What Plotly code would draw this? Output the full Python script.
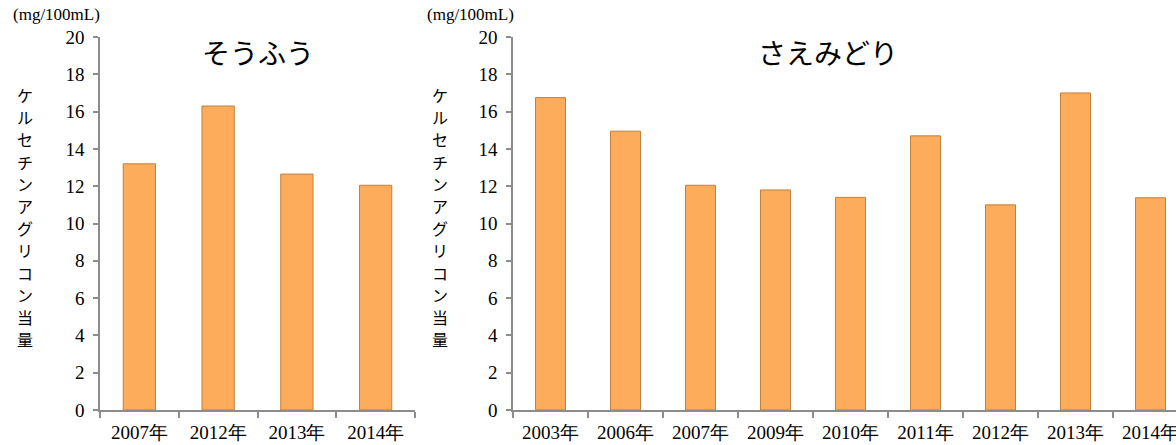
import plotly.graph_objects as go

# Data
soufu_years = ["2007年", "2012年", "2013年", "2014年"]
soufu_values = [13.2, 16.3, 12.65, 12.05]

saemidori_years = ["2003年", "2006年", "2007年", "2009年", "2010年", "2011年", "2012年", "2013年", "2014年"]
saemidori_values = [16.75, 14.95, 12.05, 11.8, 11.4, 14.7, 11.0, 17.0, 11.38]

title_left = "そうふう"
title_right = "さえみどり"
y_title = "ケルセチンアグリコン当量"
unit_label = "(mg/100mL)"
y_ticks = list(range(0, 21, 2))

W, H = 1176, 445
bar_fill = "#FCAC5A"
bar_edge = "#C0803E"
axis_col = "#8C8C8C"
serif = "Liberation Serif, Times New Roman, serif"
sans = "Noto Sans CJK JP, sans-serif"

fig = go.Figure()
fig.add_trace(go.Bar(x=soufu_years, y=soufu_values, width=0.41,
                     marker=dict(color=bar_fill, line=dict(color=bar_edge, width=1)),
                     xaxis="x", yaxis="y", showlegend=False))
fig.add_trace(go.Bar(x=saemidori_years, y=saemidori_values, width=0.4,
                     marker=dict(color=bar_fill, line=dict(color=bar_edge, width=1)),
                     xaxis="x2", yaxis="y2", showlegend=False))

ydom = [(H - 410) / H, (H - 37) / H]
xd1 = [100 / W, 415 / W]
xd2 = [513 / W, 1.0]

xcommon = dict(type="category", showline=True, linecolor=axis_col, linewidth=1.5,
               ticks="outside", ticklen=6, tickcolor=axis_col, tickwidth=1.5,
               tickson="boundaries", showgrid=False, zeroline=False, automargin=False,
               tickfont=dict(family=serif, size=19, color="#000"), ticklabelstandoff=4)
ycommon = dict(range=[0, 20], tickvals=y_ticks, showline=True, linecolor=axis_col, linewidth=1.5,
               ticks="outside", ticklen=5, tickcolor=axis_col, tickwidth=1.5,
               showgrid=False, zeroline=False, automargin=False,
               tickfont=dict(family=serif, size=19, color="#000"), ticklabelstandoff=5)

fig.update_layout(
    width=W, height=H,
    margin=dict(l=0, r=0, t=0, b=0, autoexpand=False),
    paper_bgcolor="white", plot_bgcolor="white",
    xaxis=dict(domain=xd1, anchor="y", range=[-0.5, 3.5], **xcommon),
    yaxis=dict(domain=ydom, anchor="x", **ycommon),
    xaxis2=dict(domain=xd2, anchor="y2", range=[-0.5, 8.34], **xcommon),
    yaxis2=dict(domain=ydom, anchor="x2", **ycommon),
    bargap=0.6,
)

annots = [
    dict(text=title_left, x=258, y=52, font=dict(family=sans, size=28, color="#000")),
    dict(text=title_right, x=828, y=52, font=dict(family=sans, size=28, color="#000")),
    dict(text=unit_label, x=56, y=15, font=dict(family=serif, size=17, color="#000")),
    dict(text=unit_label, x=470, y=15, font=dict(family=serif, size=17, color="#000")),
]
for a in annots:
    fig.add_annotation(text=a["text"], x=a["x"] / W, y=1 - a["y"] / H, xref="paper", yref="paper",
                       xanchor="center", yanchor="middle", showarrow=False, font=a["font"])

# vertical (stacked) axis titles
step = 22.2
y0 = 95
for xc in (25, 440):
    for i, ch in enumerate(y_title):
        fig.add_annotation(text=ch, x=xc / W, y=1 - (y0 + i * step) / H, xref="paper", yref="paper",
                           xanchor="center", yanchor="middle", showarrow=False,
                           font=dict(family=sans, size=16, color="#000"))

fig.write_html("out.html")
